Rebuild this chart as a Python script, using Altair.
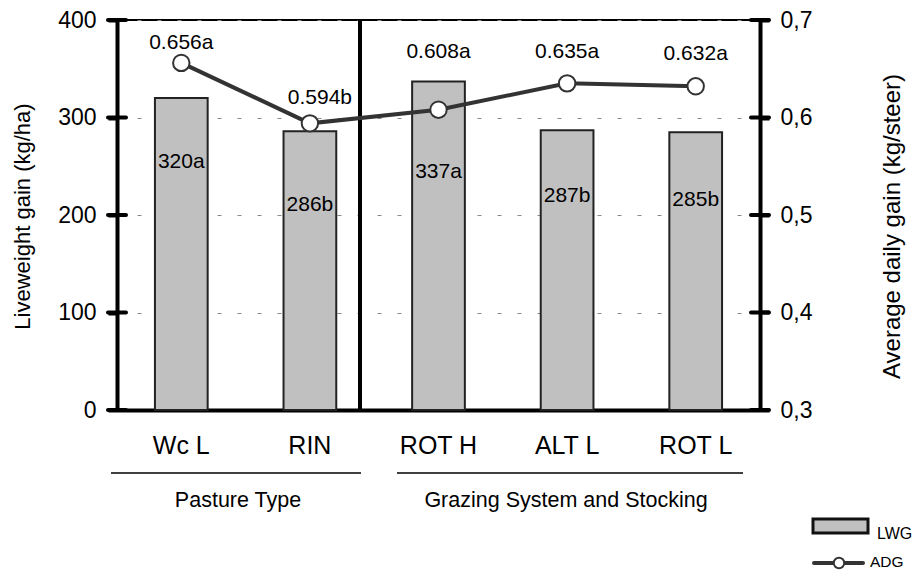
import altair as alt
import pandas as pd

# ---- data ----
categories = ["Wc L", "RIN", "ROT H", "ALT L", "ROT L"]
lwg = [320, 286, 337, 287, 285]
lwg_labels = ["320a", "286b", "337a", "287b", "285b"]
lwg_label_at = [254, 210, 244, 219, 215]          # where each LWG label sits (kg/ha)
adg = [0.656, 0.594, 0.608, 0.635, 0.632]
adg_labels = ["0.656a", "0.594b", "0.608a", "0.635a", "0.632a"]
adg_label_at = [0.676, 0.620, 0.667, 0.667, 0.665]  # where each ADG label sits (kg/steer)
groups = ["Pasture Type", "Grazing System and Stocking"]
left_ticks = [0, 100, 200, 300, 400]
right_ticks = [0.3, 0.4, 0.5, 0.6, 0.7]
legend_items = ["LWG", "ADG"]

FONT = "Liberation Sans"
W, H = 643, 390

df = pd.DataFrame({
    "cat": categories, "lwg": lwg, "lwg_lab": lwg_labels, "lwg_at": lwg_label_at,
    "adg": adg, "adg_lab": adg_labels, "adg_at": adg_label_at,
})
one = pd.DataFrame({"k": [0]})

xscale = alt.Scale(domain=categories, paddingInner=0.59, paddingOuter=0.295)
lscale = alt.Scale(domain=[0, 400], nice=False)
rscale = alt.Scale(domain=[0.3, 0.7], nice=False)

x_axis = alt.Axis(title=None, labelAngle=0, labelFontSize=25, labelColor="black",
                  labelPadding=23, ticks=False, domainWidth=4, domainColor="black",
                  labelFont=FONT, grid=False)
X = alt.X("cat:N", sort=categories, scale=xscale, axis=x_axis)

left_axis = alt.Axis(
    orient="left", values=left_ticks, title="Liveweight gain (kg/ha)",
    grid=True, gridDash=[4, 16], gridColor="#888888", gridWidth=1,
    domainWidth=4, domainColor="black", tickSize=9, tickWidth=4, tickColor="black",
    labelFontSize=23, labelPadding=12, labelColor="black",
    titleFontSize=22, titleFontWeight="normal", titleColor="black",
    titleX=-95, titleY=196, titleAngle=270, titleBaseline="middle", titleAlign="center",
)
right_axis = alt.Axis(
    orient="right", values=right_ticks, title="Average daily gain (kg/steer)",
    labelExpr="replace(format(datum.value, '.1f'), '.', ',')",
    grid=False, domainWidth=4, domainColor="black", tickSize=9, tickWidth=4,
    tickColor="black", labelFontSize=23, labelPadding=11,
    labelColor="black", titleFontSize=24, titleFontWeight="normal", titleColor="black",
    titleX=132, titleY=206, titleAngle=270, titleBaseline="middle", titleAlign="center",
)

bars = alt.Chart(df).mark_bar(fill="#c0c0c0", stroke="#222222", strokeWidth=2).encode(
    x=X, y=alt.Y("lwg:Q", scale=lscale, axis=left_axis)
)
bar_text = alt.Chart(df).mark_text(fontSize=21, color="black", font=FONT).encode(
    x=X, y=alt.Y("lwg_at:Q", scale=lscale, axis=None), text="lwg_lab:N"
)
lt = pd.DataFrame({"t": left_ticks})
left_tick_rules = alt.Chart(lt).mark_rule(color="black", strokeWidth=4, strokeCap="round").encode(
    y=alt.Y("t:Q", scale=lscale, axis=None), x=alt.value(-9), x2=alt.value(9)
)

line = alt.Chart(df).mark_line(color="#333333", strokeWidth=4).encode(
    x=X, y=alt.Y("adg:Q", scale=rscale, axis=right_axis)
)
pts = alt.Chart(df).mark_point(shape="circle", fill="white", stroke="#333333",
                               strokeWidth=2, size=270, opacity=1, fillOpacity=1).encode(
    x=X, y=alt.Y("adg:Q", scale=rscale, axis=None)
)
adg_text = alt.Chart(df).transform_filter("datum.cat != 'RIN'").mark_text(
    fontSize=21, color="black", font=FONT).encode(
    x=X, y=alt.Y("adg_at:Q", scale=rscale, axis=None), text="adg_lab:N"
)
adg_text2 = alt.Chart(df).transform_filter("datum.cat == 'RIN'").mark_text(
    fontSize=21, color="black", font=FONT, dx=10).encode(
    x=X, y=alt.Y("adg_at:Q", scale=rscale, axis=None), text="adg_lab:N"
)
rt = pd.DataFrame({"t": right_ticks})
right_tick_rules = alt.Chart(rt).mark_rule(color="black", strokeWidth=4, strokeCap="round").encode(
    y=alt.Y("t:Q", scale=rscale, axis=None), x=alt.value(W - 9), x2=alt.value(W + 9)
)

# ---- decorations: divider, group labels, legend ----
divider = alt.Chart(one).mark_rule(color="black", strokeWidth=4).encode(
    x=alt.value(243), y=alt.value(0), y2=alt.value(H)
)
g1_line = alt.Chart(one).mark_rule(color="black", strokeWidth=1.5).encode(
    x=alt.value(-6), x2=alt.value(244), y=alt.value(453)
)
g2_line = alt.Chart(one).mark_rule(color="black", strokeWidth=1.5).encode(
    x=alt.value(280), x2=alt.value(626), y=alt.value(453)
)
g1_text = alt.Chart(one).mark_text(text=groups[0], fontSize=21.5, font=FONT, color="black",
                                   baseline="middle").encode(x=alt.value(121), y=alt.value(481))
g2_text = alt.Chart(one).mark_text(text=groups[1], fontSize=21.5, font=FONT, color="black",
                                   baseline="middle").encode(x=alt.value(449), y=alt.value(481))

leg_rect = alt.Chart(one).mark_rect(fill="#c0c0c0", stroke="#111111", strokeWidth=3).encode(
    x=alt.value(696), x2=alt.value(751), y=alt.value(499), y2=alt.value(513)
)
leg_lwg = alt.Chart(one).mark_text(text=legend_items[0], fontSize=16, font=FONT, color="black",
                                   align="left", baseline="middle").encode(
    x=alt.value(760), y=alt.value(514))
leg_line = alt.Chart(one).mark_rule(color="#333333", strokeWidth=4, strokeCap="round").encode(
    x=alt.value(697), x2=alt.value(746), y=alt.value(543)
)
leg_pt = alt.Chart(one).mark_point(shape="circle", fill="white", stroke="#333333",
                                   strokeWidth=2, size=110, opacity=1, fillOpacity=1).encode(
    x=alt.value(722), y=alt.value(543))
leg_adg = alt.Chart(one).mark_text(text=legend_items[1], fontSize=15.5, font=FONT, color="black",
                                   align="left", baseline="middle").encode(
    x=alt.value(753), y=alt.value(542))

chart = alt.layer(
    bars, bar_text, left_tick_rules, divider,
    line, pts, adg_text, adg_text2, right_tick_rules,
    g1_line, g2_line, g1_text, g2_text,
    leg_rect, leg_lwg, leg_line, leg_pt, leg_adg,
).resolve_scale(y="independent").properties(
    width=W, height=H,
    autosize=alt.AutoSizeParams(type="none"),
    padding={"left": 109, "top": 12, "right": 156, "bottom": 161},
).configure(font=FONT).configure_view(stroke="black", strokeWidth=2)

chart.save("out.html", embed_options={"renderer": "svg", "actions": False})
